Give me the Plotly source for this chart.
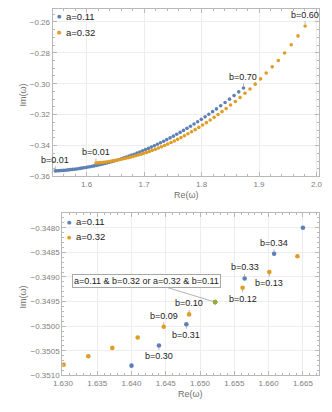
import plotly.graph_objects as go

# Re/Im of omega, one point per b step (b = 0.01, 0.02, ...)
blue_x = [
    1.5457, 1.5485, 1.5513, 1.5542, 1.5571, 1.5601, 1.5631, 1.5661, 1.5692, 1.5724,
    1.5755, 1.5788, 1.5820, 1.5853, 1.5887, 1.5921, 1.5955, 1.5990, 1.6025, 1.6061,
    1.6097, 1.6133, 1.6170, 1.6208, 1.6245, 1.6284, 1.6322, 1.6361, 1.6400, 1.6440,
    1.6480, 1.6522, 1.6565, 1.6608, 1.6650, 1.6694, 1.6739, 1.6785, 1.6831, 1.6878,
    1.6926, 1.6975, 1.7025, 1.7076, 1.7127, 1.7179, 1.7232, 1.7286, 1.7341, 1.7396,
    1.7453, 1.7510, 1.7568, 1.7627, 1.7686, 1.7747, 1.7808, 1.7870, 1.7933, 1.7997,
    1.8062, 1.8127, 1.8193, 1.8260, 1.8334, 1.8410, 1.8487, 1.8566, 1.8647, 1.8730,
]
blue_y = [
    -0.35640, -0.35634, -0.35628, -0.35620, -0.35612, -0.35603, -0.35593, -0.35582, -0.35570, -0.35557,
    -0.35544, -0.35529, -0.35513, -0.35496, -0.35478, -0.35458, -0.35437, -0.35416, -0.35392, -0.35368,
    -0.35342, -0.35315, -0.35286, -0.35255, -0.35224, -0.35190, -0.35155, -0.35118, -0.35080, -0.35039,
    -0.34996, -0.34951, -0.34903, -0.34853, -0.34800, -0.34744, -0.34684, -0.34622, -0.34558, -0.34490,
    -0.34419, -0.34344, -0.34266, -0.34183, -0.34099, -0.34010, -0.33918, -0.33821, -0.33719, -0.33615,
    -0.33505, -0.33391, -0.33273, -0.33149, -0.33022, -0.32888, -0.32751, -0.32608, -0.32459, -0.32305,
    -0.32144, -0.31979, -0.31808, -0.31631, -0.31430, -0.31219, -0.31001, -0.30771, -0.30529, -0.30276,
]
orange_x = [
    1.6164, 1.6198, 1.6232, 1.6266, 1.6301, 1.6337, 1.6372, 1.6409, 1.6447, 1.6484,
    1.6522, 1.6562, 1.6601, 1.6642, 1.6683, 1.6725, 1.6767, 1.6811, 1.6856, 1.6902,
    1.6949, 1.6996, 1.7045, 1.7095, 1.7145, 1.7197, 1.7249, 1.7303, 1.7357, 1.7412,
    1.7469, 1.7526, 1.7584, 1.7643, 1.7703, 1.7764, 1.7826, 1.7889, 1.7953, 1.8018,
    1.8084, 1.8151, 1.8219, 1.8287, 1.8357, 1.8428, 1.8505, 1.8589, 1.8670, 1.8756,
    1.8843, 1.8934, 1.9027, 1.9125, 1.9230, 1.9336, 1.9446, 1.9560, 1.9678, 1.9802,
]
orange_y = [
    -0.35126, -0.35117, -0.35106, -0.35093, -0.35078, -0.35061, -0.35044, -0.35023, -0.35001, -0.34976,
    -0.34951, -0.34922, -0.34890, -0.34858, -0.34824, -0.34788, -0.34748, -0.34706, -0.34660, -0.34611,
    -0.34559, -0.34502, -0.34443, -0.34379, -0.34311, -0.34238, -0.34162, -0.34080, -0.33994, -0.33903,
    -0.33807, -0.33705, -0.33598, -0.33485, -0.33366, -0.33241, -0.33110, -0.32972, -0.32828, -0.32676,
    -0.32518, -0.32352, -0.32178, -0.31997, -0.31808, -0.31610, -0.31380, -0.31150, -0.30890, -0.30620,
    -0.30340, -0.30030, -0.29690, -0.29310, -0.28910, -0.28500, -0.28020, -0.27480, -0.26910, -0.26270,
]
# shared point: a=0.11 & b=0.32 == a=0.32 & b=0.11
overlap_x = [1.6522]
overlap_y = [-0.34951]

series_names = ["a=0.11", "a=0.32"]
BLUE = "#5E81B5"
ORANGE = "#E19C24"
GREEN = "#8FB032"
FONT = "Liberation Sans, Arial, sans-serif"
PAGE = 8  # default body margin of the html page
W, H = 332 - PAGE, 412 - PAGE

fig = go.Figure()
for xa, ya, size in [("x", "y", 3.6), ("x2", "y2", 4.6)]:
    fig.add_trace(go.Scatter(x=blue_x, y=blue_y, mode="markers", xaxis=xa, yaxis=ya,
                             marker=dict(color=BLUE, size=size), showlegend=False))
    fig.add_trace(go.Scatter(x=orange_x, y=orange_y, mode="markers", xaxis=xa, yaxis=ya,
                             marker=dict(color=ORANGE, size=size), showlegend=False))
fig.add_trace(go.Scatter(x=overlap_x, y=overlap_y, mode="markers", xaxis="x2", yaxis="y2",
                         marker=dict(color=GREEN, size=4.6), showlegend=False))


# positions given in window pixels
def px_x(p):
    return min(1.0, max(0.0, (p - PAGE) / W))


def px_y(p):
    return min(1.0, max(0.0, 1 - (p - PAGE) / H))


frame = dict(
    showline=True, mirror="ticks", linecolor="#b8b8b8", linewidth=1,
    ticks="inside", ticklen=4, tickcolor="#b8b8b8",
    showgrid=True, gridcolor="#ededed", zeroline=False,
    tickfont=dict(family=FONT, size=8, color="#808080"),
)

fig.update_layout(
    width=W, height=H, autosize=False,
    margin=dict(l=0, r=0, t=0, b=0),
    paper_bgcolor="white", plot_bgcolor="white",
    font=dict(family=FONT, size=9, color="#222222"),
    showlegend=False,
    xaxis=dict(frame, domain=[px_x(45), px_x(322)], range=[1.541, 2.005], anchor="y",
               dtick=0.1, tick0=1.6, tickformat=".1f",
               minor=dict(ticks="inside", ticklen=2, tickcolor="#b8b8b8", dtick=0.02, showgrid=False)),
    yaxis=dict(frame, domain=[px_y(178), px_y(8)], range=[-0.36, -0.2517], anchor="x",
               dtick=0.02, tick0=-0.36, tickformat=".2f",
               minor=dict(ticks="inside", ticklen=2, tickcolor="#b8b8b8", dtick=0.005, showgrid=False)),
    xaxis2=dict(frame, domain=[px_x(55), px_x(322)], range=[1.6299, 1.6674], anchor="y2",
                dtick=0.005, tick0=1.63, tickformat=".3f",
                minor=dict(ticks="inside", ticklen=2, tickcolor="#b8b8b8", dtick=0.001, showgrid=False)),
    yaxis2=dict(frame, domain=[px_y(380), px_y(215)], range=[-0.3510, -0.3477], anchor="x2",
                dtick=0.0005, tick0=-0.351, tickformat=".4f",
                minor=dict(ticks="inside", ticklen=2, tickcolor="#b8b8b8", dtick=0.0001, showgrid=False)),
)

annotations = []


def callout(text, x, y, xr, yr, ay):
    annotations.append(dict(
        text=text, x=x, y=y, xref=xr, yref=yr, showarrow=True, arrowhead=0,
        arrowwidth=0.8, arrowcolor="#a0a0a0", ax=0, ay=ay, standoff=2,
        font=dict(family=FONT, size=9, color="#222222"),
    ))


# top panel callouts
callout("b=0.01", blue_x[0], blue_y[0], "x", "y", -11)
callout("b=0.01", orange_x[0], orange_y[0], "x", "y", -11)
callout("b=0.70", blue_x[69], blue_y[69], "x", "y", -11)
callout("b=0.60", orange_x[59], orange_y[59], "x", "y", -11)

# bottom panel callouts
for i, lab, ay in [(29, "b=0.30", 11), (30, "b=0.31", 11), (32, "b=0.33", -11), (33, "b=0.34", -11)]:
    callout(lab, blue_x[i], blue_y[i], "x2", "y2", ay)
for i, lab, ay in [(8, "b=0.09", -11), (9, "b=0.10", -11), (11, "b=0.12", 11), (12, "b=0.13", 11)]:
    callout(lab, orange_x[i], orange_y[i], "x2", "y2", ay)

annotations.append(dict(
    text="a=0.11 &amp; b=0.32 or a=0.32 &amp; b=0.11", x=overlap_x[0], y=overlap_y[0],
    xref="x2", yref="y2", showarrow=True, arrowhead=0, arrowwidth=0.8, arrowcolor="#a0a0a0",
    ax=-69, ay=-21, standoff=2, bgcolor="white", bordercolor="#a8a8a8", borderwidth=1, borderpad=1,
    font=dict(family=FONT, size=9, color="#222222"),
))

# legends
for top, dy, left in [(15.5, 16, 52), (224, 15, 62)]:
    for k, (name, col) in enumerate(zip(series_names, [BLUE, ORANGE])):
        yy = px_y(top + k * dy)
        annotations.append(dict(text="●", x=px_x(left), y=yy, xref="paper", yref="paper",
                                showarrow=False, xanchor="center", yanchor="middle",
                                font=dict(family="DejaVu Sans", size=5, color=col)))
        annotations.append(dict(text=name, x=px_x(left + 5), y=yy, xref="paper", yref="paper",
                                showarrow=False, xanchor="left", yanchor="middle",
                                font=dict(family=FONT, size=9.5, color="#222222")))

# axis titles
for txt, x, y, ang in [("Re(ω)", 183.5, 197, 0), ("Im(ω)", 14, 95, -90),
                       ("Re(ω)", 188.5, 399, 0), ("Im(ω)", 14, 300, -90)]:
    annotations.append(dict(text=txt, x=px_x(x), y=px_y(y), xref="paper", yref="paper",
                            showarrow=False, textangle=ang, xanchor="center", yanchor="middle",
                            font=dict(family=FONT, size=9, color="#707070")))

fig.update_layout(annotations=annotations)
fig.write_html("out.html")
